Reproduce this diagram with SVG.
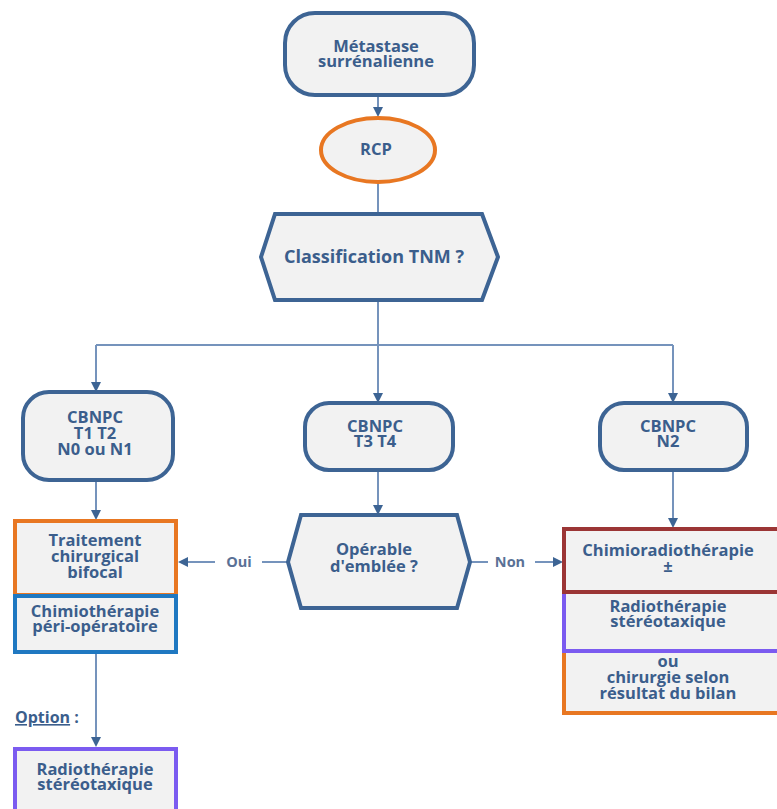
<svg xmlns="http://www.w3.org/2000/svg" width="777" height="809" viewBox="0 0 777 809">
<defs>
<marker id="ah" markerWidth="10" markerHeight="10" refX="8" refY="5" orient="auto" markerUnits="userSpaceOnUse">
<path d="M0,0 L10,5 L0,10 z" fill="#3D6494"/>
</marker>
<style>
.n{fill:#F2F2F2;stroke:#3D6494;stroke-width:4}
.t{font-family:"Open Sans","Noto Sans",sans-serif;font-weight:700;font-size:16.5px;fill:#3B5E8C;text-anchor:middle}
.big{font-size:18px}
.c{fill:none;stroke:#7593BC;stroke-width:2}
.l{font-family:"Open Sans","Noto Sans",sans-serif;font-weight:700;font-size:14.5px;fill:#5A7196;text-anchor:middle}
</style>
</defs>
<rect width="777" height="809" fill="#FFFFFF"/>
<g id="connectors">
<line class="c" x1="378" y1="95" x2="378" y2="115" marker-end="url(#ah)"/>
<line class="c" x1="378" y1="183" x2="378" y2="213"/>
<line class="c" x1="378" y1="301" x2="378" y2="345"/>
<line class="c" x1="96" y1="345" x2="673" y2="345"/>
<line class="c" x1="96" y1="345" x2="96" y2="390" marker-end="url(#ah)"/>
<line class="c" x1="378" y1="345" x2="378" y2="401" marker-end="url(#ah)"/>
<line class="c" x1="673" y1="345" x2="673" y2="401" marker-end="url(#ah)"/>
<line class="c" x1="96" y1="481" x2="96" y2="518" marker-end="url(#ah)"/>
<line class="c" x1="378" y1="471" x2="378" y2="513" marker-end="url(#ah)"/>
<line class="c" x1="673" y1="471" x2="673" y2="526" marker-end="url(#ah)"/>
<line class="c" x1="288" y1="562" x2="262" y2="562"/>
<line class="c" x1="215" y1="562" x2="180" y2="562" marker-end="url(#ah)"/>
<line class="c" x1="470" y1="562" x2="488" y2="562"/>
<line class="c" x1="535" y1="562" x2="561" y2="562" marker-end="url(#ah)"/>
<line class="c" x1="96" y1="653" x2="96" y2="745" marker-end="url(#ah)"/>
<text class="l" x="239" y="567">Oui</text>
<text class="l" x="510" y="567">Non</text>
</g>
<g id="metastase">
<rect class="n" x="285" y="13" width="189" height="82" rx="30" ry="30"/>
<text class="t" x="376" y="52">Métastase</text>
<text class="t" x="376" y="67">surrénalienne</text>
</g>
<g id="rcp">
<ellipse cx="378" cy="150" rx="57" ry="32" fill="#F2F2F2" stroke="#E87722" stroke-width="4"/>
<text class="t" x="376" y="155">RCP</text>
</g>
<g id="classification">
<polygon class="n" points="275,214 482,214 498,257 482,300 275,300 261,257"/>
<text class="t big" x="374" y="263">Classification TNM ?</text>
</g>
<g id="cbnpc-t1t2">
<rect class="n" x="23" y="392" width="150" height="88" rx="26" ry="26"/>
<text class="t" x="95" y="423">CBNPC</text>
<text class="t" x="95" y="439">T1 T2</text>
<text class="t" x="95" y="455">N0 ou N1</text>
</g>
<g id="cbnpc-t3t4">
<rect class="n" x="305" y="403" width="148" height="67" rx="24" ry="24"/>
<text class="t" x="375" y="432">CBNPC</text>
<text class="t" x="375" y="447">T3 T4</text>
</g>
<g id="cbnpc-n2">
<rect class="n" x="600" y="403" width="147" height="67" rx="24" ry="24"/>
<text class="t" x="668" y="432">CBNPC</text>
<text class="t" x="668" y="447">N2</text>
</g>
<g id="operable">
<polygon class="n" points="301,515 457,515 470,562 457,608 301,608 288,562"/>
<text class="t" x="374" y="555">Opérable</text>
<text class="t" x="374" y="572">d'emblée ?</text>
</g>
<g id="traitement">
<rect x="15" y="521" width="161" height="74" fill="#F2F2F2" stroke="#E87722" stroke-width="4"/>
<text class="t" x="95" y="546">Traitement</text>
<text class="t" x="95" y="562">chirurgical</text>
<text class="t" x="95" y="578">bifocal</text>
</g>
<g id="chimio-peri">
<rect x="15" y="596" width="161" height="56" fill="#F2F2F2" stroke="#1F78C1" stroke-width="4"/>
<text class="t" x="95" y="617">Chimiothérapie</text>
<text class="t" x="95" y="632">péri-opératoire</text>
</g>
<g id="option">
<text x="15" y="723" font-family="'Open Sans','Noto Sans',sans-serif" font-weight="700" font-size="16px" fill="#3B5E8C"><tspan text-decoration="underline">Option</tspan> :</text>
</g>
<g id="radio-left">
<rect x="15" y="749" width="161" height="70" fill="#F2F2F2" stroke="#7B5BF0" stroke-width="4"/>
<text class="t" x="95" y="775">Radiothérapie</text>
<text class="t" x="95" y="790">stéréotaxique</text>
</g>
<g id="orange-right">
<rect x="564" y="651" width="220" height="62" fill="#F2F2F2" stroke="#E87722" stroke-width="4"/>
<text class="t" x="668" y="667">ou</text>
<text class="t" x="668" y="683">chirurgie selon</text>
<text class="t" x="668" y="699">résultat du bilan</text>
</g>
<g id="radio-right">
<rect x="564" y="592" width="220" height="59" fill="#F2F2F2" stroke="#7B5BF0" stroke-width="4"/>
<text class="t" x="668" y="612">Radiothérapie</text>
<text class="t" x="668" y="627">stéréotaxique</text>
</g>
<g id="chimioradio">
<rect x="564" y="529" width="220" height="63" fill="#F2F2F2" stroke="#9B3535" stroke-width="4"/>
<text class="t" x="668" y="556">Chimioradiothérapie</text>
<text class="t" x="668" y="572">±</text>
</g>
</svg>
